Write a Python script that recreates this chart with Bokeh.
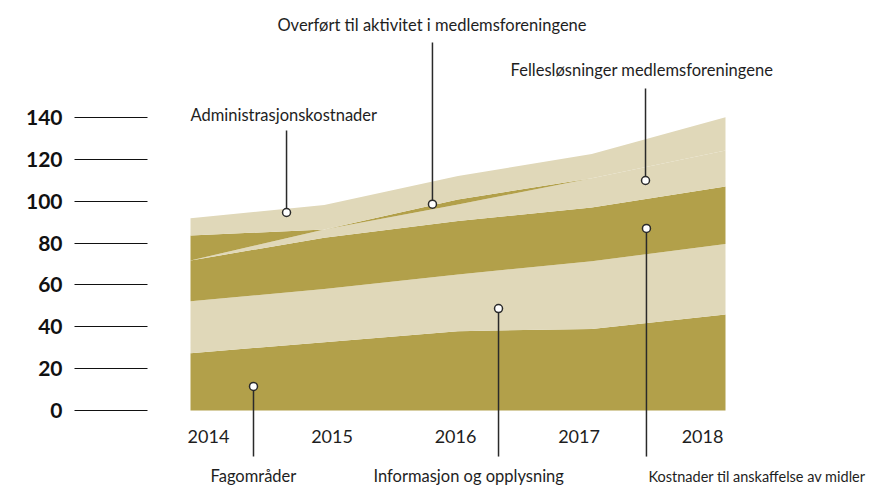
from bokeh.plotting import figure
from bokeh.models import ColumnDataSource, Range1d, FixedTicker
from bokeh.core.properties import value
from bokeh.embed import file_html
from bokeh.resources import INLINE

# ---- data ----
years = [2014, 2015, 2016, 2017, 2018]
year_labels = ["2014", "2015", "2016", "2017", "2018"]
fagomrader = [27.4, 32.6, 37.9, 39.0, 45.9]
informasjon = [24.8, 25.5, 27.1, 32.3, 33.7]
anskaffelse = [19.5, 24.4, 25.5, 25.7, 27.4]
felles = [0.0, 4.0, 7.9, 14.0, 17.2]
overfort = [11.9, 0.0, 2.4, 0.0, 0.0]
administrasjon = [8.3, 11.7, 11.2, 11.6, 15.9]
y_ticks = [0, 20, 40, 60, 80, 100, 120, 140]

series_names = ["fag", "info", "ansk", "felles", "overf", "admin"]

# annotations: label, anchor x, anchor y, leader end y, text x, text y
ann_labels = ["Administrasjonskostnader",
              "Overført til aktivitet i medlemsforeningene",
              "Fellesløsninger medlemsforeningene",
              "Fagområder",
              "Informasjon og opplysning",
              "Kostnader til anskaffelse av midler"]
ann_x = [2014.718, 2015.809, 2017.402, 2014.471, 2016.303, 2017.409]
ann_y = [94.6, 98.6, 109.9, 11.5, 48.7, 87.0]
lead_y = [133.8, 175.8, 153.9, -22.0, -22.0, -22.0]
txt_x = [2014.0, 2014.650, 2016.393, 2014.150, 2015.368, 2017.424]
txt_y = [141.4, 184.2, 162.9, -31.5, -31.5, -31.5]
txt_size = ["16.5px", "16.5px", "16.5px", "16.5px", "16.5px", "14.5px"]

DARK = "#b2a04a"
LIGHT = "#e0d8b9"
INK = "#1e1e1e"

W, H = 874, 486
LEFT = 147
px_per_year = 133.75
px_per_unit = 293 / 140.0
x0 = 2014 - 43 / px_per_year
y0 = -76 / px_per_unit

p = figure(width=W, height=H, output_backend="svg", toolbar_location=None,
           x_axis_type=None,
           x_range=Range1d(x0, x0 + (W - LEFT) / px_per_year),
           y_range=Range1d(y0, y0 + H / px_per_unit),
           min_border_left=LEFT, min_border_right=0,
           min_border_top=0, min_border_bottom=0)
p.outline_line_color = None
p.ygrid.visible = False
p.background_fill_color = "white"
p.border_fill_color = "white"

src = ColumnDataSource(dict(year=years, fag=fagomrader, info=informasjon,
                            ansk=anskaffelse, felles=felles, overf=overfort,
                            admin=administrasjon))
p.varea_stack(stackers=series_names, x="year", source=src,
              color=[DARK, LIGHT, DARK, LIGHT, DARK, LIGHT])

# y axis: long outward ticks act as the short guide lines
ya = p.yaxis[0]
ya.ticker = FixedTicker(ticks=y_ticks)
ya.axis_line_color = None
ya.major_tick_in = 0
ya.major_tick_out = 73
ya.major_tick_line_color = "#111111"
ya.major_tick_line_width = 1
ya.minor_tick_line_color = None
ya.major_label_standoff = 12
ya.major_label_text_font = "Lato"
ya.major_label_text_font_style = "bold"
ya.major_label_text_font_size = "21px"
ya.major_label_text_color = "#111111"

# year labels (evenly spread under the area)
label_x = [2014.1346 + (y - 2014) * 0.9234 for y in years]
p.text(x=label_x, y=[-12.6] * len(years), text=year_labels,
       text_align="center", text_baseline="alphabetic",
       text_font=value("Lato"), text_font_size="18px", text_color=INK)

# annotation leaders
p.segment(x0=ann_x, y0=ann_y, x1=ann_x, y1=lead_y, line_color="#2a2a2a", line_width=1.5)
p.scatter(x=ann_x, y=ann_y, marker="circle", size=8, fill_color="white",
          line_color="#2a2a2a", line_width=1.5)
ann_src = ColumnDataSource(dict(x=txt_x, y=txt_y, text=ann_labels, size=txt_size))
p.text(x="x", y="y", text="text", source=ann_src, text_align="left",
       text_baseline="alphabetic", text_font=value("Lato"),
       text_font_size="size", text_color=INK)

open("out.html", "w").write(file_html(p, INLINE))
